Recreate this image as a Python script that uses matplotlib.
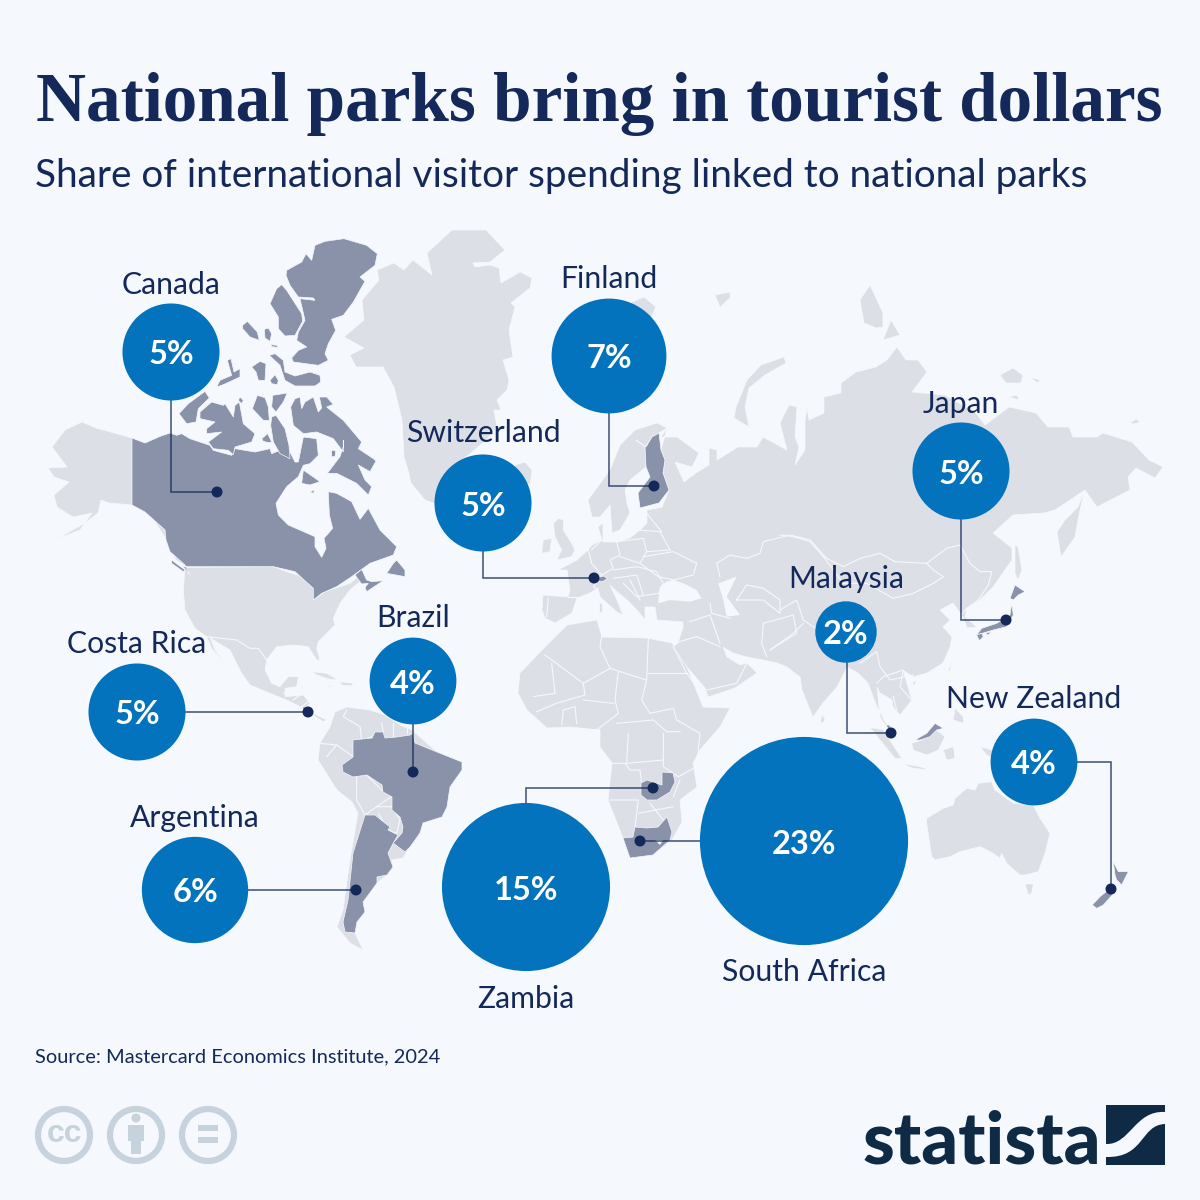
import numpy as np
import matplotlib
matplotlib.use('Agg')
import matplotlib.pyplot as plt
from matplotlib.patches import Circle, Rectangle, PathPatch
from matplotlib.path import Path

# values
countries = ['Canada', 'Finland', 'Switzerland', 'Japan', 'Malaysia', 'New Zealand',
             'Brazil', 'Costa Rica', 'Argentina', 'Zambia', 'South Africa']
shares = [5, 7, 5, 5, 2, 4, 4, 5, 6, 15, 23]

title = 'National parks bring in tourist dollars'
subtitle = 'Share of international visitor spending linked to national parks'
source = 'Source: Mastercard Economics Institute, 2024'

# layout, in pixels of the 1200x1200 picture
bubble_x = [171, 609, 483, 961, 846, 1034, 413, 137, 195, 526, 804]
bubble_y = [352, 356, 503, 471, 632, 762, 681, 712, 890, 887, 841]
label_y = [285, 279, 433, 404, 579, 699, 618, 644, 818, 999, 972]
bubble_scale = 21.7

# leader lines end at the dot
leaders = [
    [(171, 400), (171, 492), (217, 492)],
    [(609, 410), (609, 486), (654, 486)],
    [(483, 550), (483, 578), (594, 578)],
    [(961, 515), (961, 620), (1006, 620)],
    [(847, 660), (847, 733), (891, 733)],
    [(1075, 762), (1111, 762), (1111, 889)],
    [(413, 720), (413, 772)],
    [(185, 712), (308, 712)],
    [(245, 890), (356, 890)],
    [(526, 805), (526, 788), (653, 788)],
    [(702, 841), (640, 841)],
]

BG = '#f5f8fc'
LAND = '#dcdfe6'
HILITE = '#8992a9'
BLUE = '#0273bc'
NAVY = '#14295a'
LOGO = '#0f2a44'
ICON = '#c6d3dc'


def arc(pts):
    return [(170 + x / 3, 232 + y / 3) for x, y in pts]


def hud(pts):
    return [(170 + x / 3, 440 + y / 3) for x, y in pts]


def usa(pts):
    return [(170 + x / 3, 560 + y / 3) for x, y in pts]


def z3(pts):
    return [(250 + x / 3, 600 + y / 3) for x, y in pts]


def z5(pts):
    return [(530 + x / 3, 500 + y / 3) for x, y in pts]


def z6(pts):
    return [(780 + x / 3, 520 + y / 3) for x, y in pts]


def z7(pts):
    return [(900 + x / 3, 740 + y / 3) for x, y in pts]


# ---- base map outlines ----
greenland = [(452, 230), (486, 230), (505, 250), (490, 262), (473, 263), (475, 267), (490, 265), (499, 268),
             (501, 283), (520, 272), (532, 278), (530, 288), (511, 303), (515, 307), (509, 330), (513, 357),
             (503, 360), (509, 380), (507, 390), (497, 400), (501, 410), (494, 410), (497, 427), (486, 440),
             (471, 453), (452, 467), (444, 507), (425, 500), (411, 483), (408, 470), (404, 457), (402, 420),
             (394, 387), (383, 367), (356, 367), (350, 355), (364, 348), (344, 337), (364, 320), (362, 300),
             (379, 280), (377, 270), (394, 263), (404, 270), (413, 260), (432, 275), (427, 253)]
alaska = [(132, 438), (96, 428), (82, 422), (65, 430), (52, 447), (67, 467), (48, 468), (54, 477), (69, 482),
          (54, 495), (57, 507), (73, 517), (92, 513), (80, 530), (57, 539), (85, 523), (98, 513), (101, 500),
          (109, 503), (132, 505), (145, 512), (165, 530), (166, 540), (176, 560), (187, 567), (170, 545),
          (155, 522)]
north_am = usa([(45, 22), (310, 20), (350, 35), (400, 50), (435, 90), (430, 120), (465, 95), (540, 70), (575, 40),
                (575, 60), (540, 90), (510, 130), (490, 175), (495, 195), (445, 245), (440, 265), (450, 300),
                (440, 300), (415, 260), (370, 255), (320, 260), (290, 300), (285, 330), (305, 370), (330, 380),
                (355, 350), (385, 350), (380, 380), (345, 385), (345, 410), (400, 405), (420, 430), (400, 450),
                (440, 465), (470, 480), (460, 485), (420, 460), (390, 440), (350, 420), (300, 400), (240, 375),
                (215, 340), (180, 270), (130, 240), (120, 230), (135, 270), (175, 325), (125, 265), (110, 230),
                (75, 205), (45, 150), (40, 90)])
cuba = usa([(425, 335), (470, 340), (505, 360), (480, 358), (440, 345)])
hispaniola = usa([(510, 365), (550, 370), (545, 378), (515, 375)])
jamaica = usa([(468, 376), (485, 378), (480, 382)])
south_am = [(330, 727), (335, 712), (347, 707), (370, 710), (385, 715), (400, 725), (412, 730), (437, 752),
            (462, 762), (462, 770), (450, 787), (447, 807), (442, 817), (423, 823), (420, 833), (410, 847),
            (403, 858), (392, 860), (387, 875), (377, 883), (363, 902), (357, 922), (355, 933), (363, 950),
            (350, 943), (337, 927), (343, 910), (350, 860), (358, 813), (352, 802), (337, 790), (318, 760),
            (320, 743)]
africa = [(567, 625), (597, 620), (602, 637), (647, 638), (672, 643), (687, 667), (703, 707), (730, 708),
          (720, 727), (700, 750), (693, 763), (697, 787), (680, 800), (682, 822), (672, 840), (653, 855),
          (630, 858), (623, 838), (608, 800), (612, 763), (600, 747), (600, 730), (570, 727), (547, 728),
          (527, 710), (518, 693), (520, 673), (545, 647)]
eurasia = [(667, 428), (661, 437), (677, 437), (699, 453), (692, 467), (675, 462), (684, 482), (696, 473),
           (709, 465), (709, 448), (717, 450), (717, 460), (738, 447), (757, 447), (763, 437), (787, 450),
           (780, 423), (789, 405), (797, 407), (795, 437), (799, 447), (795, 465), (805, 450), (805, 420),
           (807, 408), (809, 420), (824, 413), (824, 397), (841, 393), (841, 383), (856, 372), (876, 367),
           (887, 360), (897, 347), (906, 360), (918, 360), (927, 372), (912, 392), (945, 395), (975, 412),
           (985, 425), (1009, 407), (1036, 413), (1048, 427), (1069, 427), (1073, 437), (1097, 437),
           (1103, 433), (1132, 442), (1149, 460), (1163, 467), (1155, 478), (1136, 468), (1128, 477),
           (1130, 490), (1097, 507), (1085, 490), (1055, 510), (1044, 513), (1013, 515), (993, 533),
           (1012, 548), (1012, 560), (993, 587), (980, 600), (967, 608), (965, 617), (977, 627), (967, 628),
           (963, 617), (953, 603), (940, 610), (950, 620), (943, 627), (952, 637), (950, 647), (943, 663),
           (927, 673), (913, 677), (903, 670), (912, 700), (900, 715), (893, 707), (892, 700), (880, 693),
           (877, 687), (880, 717), (893, 737), (888, 727), (877, 707), (868, 683), (858, 673), (847, 667),
           (837, 687), (823, 703), (813, 717), (802, 690), (800, 677), (787, 667), (777, 663), (763, 660),
           (747, 657), (733, 653), (723, 647), (727, 657), (740, 665), (747, 663), (757, 673), (735, 688),
           (708, 697), (705, 688), (687, 667), (673, 647), (678, 643), (683, 627), (683, 622), (657, 620),
           (655, 607), (645, 607), (645, 620), (637, 610), (627, 600), (615, 590), (610, 585), (617, 600),
           (623, 615), (617, 612), (600, 597), (598, 588), (590, 593), (577, 598), (572, 613), (555, 623),
           (545, 618), (542, 610), (543, 595), (568, 597), (570, 590), (567, 570), (558, 570), (577, 560),
           (588, 550), (592, 545), (602, 540), (598, 527), (603, 523), (603, 542), (617, 542), (630, 538),
           (640, 530), (647, 523), (647, 510), (658, 508), (662, 507), (669, 490), (663, 473), (665, 460),
           (661, 450)]
scandinavia = [(588, 500), (592, 517), (600, 517), (610, 505), (612, 533), (620, 530), (630, 513), (627, 503),
               (625, 490), (630, 480), (646, 467), (645, 447), (652, 437), (659, 433), (667, 428), (657, 423),
               (635, 430), (620, 445), (610, 470)]
australia = z7([(80, 235), (130, 205), (160, 195), (165, 175), (200, 145), (225, 150), (235, 130), (275, 125),
                (285, 150), (340, 190), (400, 195), (420, 235), (450, 280), (435, 340), (415, 395), (375, 405),
                (360, 405), (320, 370), (305, 340), (300, 355), (280, 340), (240, 320), (180, 335), (150, 350),
                (105, 360), (95, 350), (80, 250)])
islands = [
    z5([(85, 55), (100, 60), (100, 90), (125, 130), (135, 150), (125, 170), (80, 180), (95, 150), (75, 110), (70, 70)]),
    z5([(40, 120), (65, 115), (60, 155), (35, 160)]),
    z5([(207, 310), (216, 310), (216, 335), (207, 335)]),
    [(515, 465), (525, 462), (532, 470), (530, 485), (515, 480)],
    [(625, 305), (644, 297), (656, 307), (650, 320), (630, 320)],
    [(715, 295), (730, 292), (730, 298), (720, 307)],
    [(784, 357), (786, 363), (765, 375), (749, 388), (745, 407), (749, 427), (734, 418), (736, 407), (747, 380), (761, 365)],
    [(860, 300), (870, 285), (883, 313), (883, 327), (876, 328), (864, 323)],
    [(883, 340), (891, 320), (900, 335)],
    [(1000, 375), (1013, 368), (1023, 375), (1021, 383), (1006, 383)],
    [(1029, 377), (1040, 380), (1038, 383)],
    [(1009, 397), (1017, 395), (1019, 400)],
    [(1130, 423), (1136, 419), (1140, 422), (1134, 424)],
    [(1084, 492), (1078, 507), (1065, 520), (1057, 532), (1061, 557), (1075, 537), (1078, 520)],
    [(1015, 545), (1018, 547), (1022, 570), (1018, 580), (1015, 573)],
    z6([(395, 670), (425, 660), (470, 630), (495, 650), (475, 690), (440, 705), (400, 690)]),
    z6([(270, 622), (310, 630), (365, 715), (345, 715), (300, 660)]),
    z6([(365, 730), (420, 740), (450, 750), (400, 745)]),
    z6([(490, 690), (520, 680), (525, 715), (500, 720)]),
    z6([(525, 565), (550, 590), (550, 610), (520, 600)]),
    z6([(395, 490), (410, 480), (405, 495)]),
    z6([(505, 450), (515, 430), (510, 455)]),
    z6([(125, 585), (135, 595), (130, 610), (122, 605)]),
    z6([(600, 680), (635, 690), (650, 720), (620, 705)]),
    z7([(375, 432), (400, 432), (395, 460), (385, 465)]),
    cuba, hispaniola, jamaica,
]
# inland seas are cut out with the background colour
seas = [
    z5([(385, 300), (390, 260), (410, 245), (430, 240), (460, 250), (500, 270), (515, 295), (480, 305), (420, 300), (385, 310)]),
    z5([(565, 250), (620, 230), (590, 290), (630, 345), (590, 350), (580, 300)]),
]

# ---- highlighted countries ----
canada = [
    [(132, 438), (145, 443), (161, 436), (170, 433)]
    + arc([(20, 610), (35, 605), (60, 620), (120, 640), (130, 655), (185, 670), (195, 650), (255, 660), (300, 650),
           (305, 665), (330, 655), (350, 640), (375, 690), (385, 690), (400, 615), (440, 620), (445, 670), (420, 695),
           (400, 700)])
    + hud([(385, 110), (350, 140), (318, 190), (325, 225), (355, 255), (435, 290), (435, 320), (455, 352), (468, 325),
           (462, 295), (488, 265), (478, 225), (475, 155), (500, 160), (545, 185), (570, 238), (595, 205), (630, 270),
           (680, 320), (670, 345), (600, 370), (545, 410), (500, 440), (455, 460), (430, 480), (430, 445), (375, 395),
           (310, 380), (40, 380), (60, 405), (45, 375), (0, 335)])
    + [(166, 540), (165, 530), (145, 512), (132, 505)],
    hud([(400, 90), (450, 125), (420, 135), (395, 130)]),
    hud([(420, 155), (435, 150), (430, 160)]),
    hud([(485, 30), (497, 33), (495, 50), (485, 50)]),
    hud([(680, 360), (705, 390), (705, 410), (650, 400), (670, 370)]),
    hud([(555, 405), (575, 388), (590, 420), (605, 425), (640, 422), (590, 455), (585, 442), (595, 430), (575, 432)]),
    hud([(5, 360), (45, 390), (40, 395), (5, 370)]),
    # arctic islands
    arc([(350, 115), (395, 90), (408, 65), (425, 85), (435, 40), (465, 28), (522, 20), (590, 40), (622, 65), (615, 100),
         (570, 135), (585, 148), (550, 210), (520, 250), (485, 262), (497, 295), (475, 335), (465, 365), (475, 385),
         (445, 400), (370, 390), (365, 378), (385, 355), (410, 345), (380, 325), (385, 300), (405, 265), (390, 200),
         (435, 205), (430, 198), (385, 195), (360, 160), (348, 130)]),
    arc([(320, 170), (335, 158), (350, 175), (395, 245), (398, 268), (375, 310), (345, 312), (325, 290), (325, 255), (300, 215)]),
    arc([(218, 280), (232, 268), (262, 300), (268, 325), (240, 315), (218, 290)]),
    arc([(283, 292), (295, 288), (305, 305), (300, 328), (285, 318)]),
    arc([(303, 338), (322, 340), (322, 346), (305, 344)]),
    arc([(298, 370), (315, 365), (340, 385), (345, 420), (375, 432), (420, 420), (450, 430), (452, 450), (435, 462),
         (375, 462), (345, 445), (330, 400)]),
    arc([(245, 405), (270, 388), (288, 395), (285, 445), (265, 445), (258, 420)]),
    arc([(300, 445), (315, 428), (325, 445), (322, 458), (305, 455)]),
    arc([(172, 385), (183, 380), (192, 420), (210, 410), (210, 435), (160, 458), (140, 465), (150, 445), (185, 430)]),
    arc([(27, 545), (55, 515), (105, 478), (118, 498), (85, 530), (78, 570), (50, 575)]),
    arc([(90, 540), (125, 510), (160, 520), (165, 515), (190, 555), (195, 520), (208, 510), (220, 575), (255, 605),
         (245, 630), (195, 645), (190, 668), (175, 655), (130, 650), (115, 630), (155, 600), (110, 605), (110, 590),
         (135, 570), (90, 560)]),
    arc([(210, 495), (220, 505), (215, 515), (205, 505)]),
    arc([(247, 530), (262, 490), (285, 497), (295, 525), (298, 565), (280, 565)]),
    arc([(308, 490), (352, 483), (340, 510), (318, 540), (305, 525)]),
    arc([(305, 555), (318, 550), (345, 590), (357, 640), (360, 680), (330, 665), (310, 630), (302, 580)]),
    arc([(275, 620), (293, 605), (305, 630), (295, 632), (280, 628)]),
    # Baffin
    arc([(362, 525), (375, 500), (390, 495), (395, 530), (405, 510), (430, 495), (445, 540), (455, 528), (448, 495),
         (470, 495), (490, 517), (470, 525), (520, 565), (575, 630), (565, 650), (610, 680), (622, 690)])
    + hud([(620, 60), (600, 95), (565, 75), (585, 120), (605, 140), (595, 165), (560, 130), (500, 100), (472, 100),
           (510, 50), (520, 20), (520, 0)])
    + arc([(520, 660), (490, 620), (440, 600), (400, 605), (370, 580)]),
]
finland = [[(636, 440), (646, 447), (652, 437), (659, 433), (661, 450), (665, 460), (663, 473), (669, 490),
            (659, 503), (640, 508), (638, 493), (650, 477), (646, 467), (645, 447)]]
brazil = [[(353, 740), (372, 738), (375, 732), (383, 732), (385, 738), (397, 737), (410, 735), (413, 733), (415, 743),
           (437, 752), (462, 762), (462, 770), (450, 787), (447, 807), (442, 817), (423, 823), (420, 833), (410, 847),
           (405, 852), (393, 843), (402, 833), (403, 827), (400, 817), (392, 810), (392, 797), (383, 792), (382, 785),
           (367, 775), (353, 777), (343, 772), (342, 765), (353, 757)]]
argentina = [[(365, 815), (375, 815), (390, 827), (388, 830), (398, 835), (395, 840), (388, 853), (393, 867),
              (387, 875), (377, 877), (377, 883), (372, 890), (363, 902), (365, 912), (357, 922), (355, 933),
              (345, 932), (343, 922), (348, 900), (353, 853)]]
south_africa = [[(623, 838), (633, 837), (635, 827), (647, 828), (658, 827), (667, 817), (672, 832), (670, 840),
                 (653, 855), (630, 858)]]
zambia = [[(647, 780), (662, 785), (662, 772), (673, 773), (675, 782), (670, 792), (657, 800), (647, 800),
           (641, 795), (641, 783)]]
japan = [z6([(690, 235), (705, 195), (735, 215), (715, 225), (700, 240)]),
         z6([(695, 250), (700, 285), (680, 320), (640, 330), (590, 345), (605, 325), (650, 310), (690, 285)]),
         z6([(590, 345), (605, 340), (610, 350), (598, 362)]),
         z6([(615, 340), (635, 335), (625, 345)])]
malaysia = [z6([(405, 660), (440, 640), (465, 610), (490, 625), (470, 630), (450, 650), (420, 660)]),
            z6([(318, 615), (328, 615), (350, 652), (335, 645)])]
new_zealand = [z7([(640, 365), (655, 395), (685, 395), (665, 435), (650, 420), (645, 405)]),
               z7([(650, 450), (610, 495), (590, 505), (577, 495), (600, 470), (625, 450)])]
switzerland = [z5([(205, 232), (222, 228), (232, 236), (218, 245), (205, 243)])]
costa_rica = [[(303, 706), (313, 712), (312, 717), (303, 712)]]
highlighted = canada + finland + brazil + argentina + south_africa + zambia + japan + malaysia + new_zealand \
    + switzerland + costa_rica

# ---- white country borders ----
borders = [
    z3([(885, 165), (1000, 250), (1080, 205)]), z3([(905, 190), (915, 280), (850, 290)]),
    z3([(1000, 250), (1005, 285), (970, 295), (920, 310), (860, 335)]),
    z3([(1055, 110), (1050, 140), (1080, 205), (1110, 215), (1190, 240), (1195, 115)]),
    z3([(1195, 220), (1310, 220)]),
    z3([(1190, 240), (1175, 300), (1200, 340), (1270, 325), (1280, 360), (1350, 400), (1340, 500)]),
    z3([(1105, 215), (1095, 300), (1105, 340), (1040, 390)]),
    z3([(1100, 370), (1210, 360), (1250, 395), (1290, 395)]),
    z3([(1135, 400), (1130, 490), (1240, 480)]), z3([(1240, 400), (1240, 500), (1285, 530), (1340, 500)]),
    z3([(1085, 490), (1125, 490), (1140, 510), (1170, 510), (1175, 550)]),
    z3([(1080, 600), (1165, 600), (1155, 680)]), z3([(1200, 610), (1240, 660)]), z3([(1270, 590), (1290, 540)]),
    z3([(935, 375), (940, 330), (975, 320), (980, 370)]), z3([(1000, 300), (1090, 310)]),
    z3([(1165, 640), (1270, 620)]),
    z3([(290, 330), (280, 350), (330, 380), (335, 420), (370, 410)]), z3([(395, 370), (400, 395)]),
    z3([(430, 370), (430, 410)]), z3([(470, 380), (470, 400)]), z3([(210, 430), (260, 435), (230, 470)]),
    z3([(260, 435), (310, 470)]),
    z3([(320, 530), (320, 600), (345, 645), (380, 620), (425, 590), (400, 575), (350, 525)]),
    z3([(380, 620), (425, 620), (450, 660), (440, 700), (415, 690), (385, 640)]),
    usa([(110, 230), (200, 240), (240, 265), (265, 265), (290, 300)]),
    usa([(340, 400), (360, 385)]), usa([(370, 420), (390, 405)]), usa([(395, 440), (415, 425)]),
    z5([(55, 295), (50, 350)]), z5([(115, 290), (140, 290)]),
    z5([(175, 150), (185, 190), (215, 225), (190, 260), (205, 270)]),
    z5([(185, 150), (215, 120), (260, 125), (270, 165), (240, 180), (250, 205), (215, 225)]),
    z5([(260, 125), (340, 115), (350, 155), (330, 190), (270, 170)]),
    z5([(325, 90), (390, 95), (420, 150), (350, 155)]), z5([(350, 40), (395, 95)]),
    z5([(340, 170), (430, 155), (500, 190), (490, 225), (430, 240), (385, 230), (330, 190)]),
    z5([(250, 210), (320, 200), (380, 215), (400, 250), (385, 280), (320, 290), (280, 250)]),
    z5([(250, 235), (320, 225), (340, 285)]), z5([(300, 240), (330, 300)]),
    z5([(560, 190), (600, 165), (650, 175), (690, 160), (700, 125), (780, 105), (840, 120), (890, 175)]),
    z5([(560, 190), (570, 230)]), z5([(540, 310), (545, 340), (600, 355)]),
    z5([(620, 300), (650, 255), (700, 265), (750, 300), (750, 340), (700, 300), (650, 300), (620, 300)]),
    z5([(700, 370), (695, 430), (710, 470)]), z5([(480, 365), (540, 345), (570, 430)]),
    z5([(430, 430), (500, 410), (570, 440)]), z5([(700, 370), (790, 345), (800, 400), (720, 450)]),
    z5([(720, 450), (790, 400), (820, 370)]), z5([(530, 570), (620, 550), (650, 490)]),
    z5([(430, 440), (470, 520), (530, 600)]),
    z6([(0, 45), (40, 50), (90, 65), (130, 110), (190, 140), (240, 115), (300, 100), (345, 125), (440, 130), (500, 85),
        (540, 75), (570, 130), (600, 155), (635, 155), (625, 195), (595, 240), (560, 265)]),
    z6([(130, 110), (190, 190), (260, 190), (340, 235), (400, 220), (460, 190), (490, 170), (460, 150), (440, 130)]),
    z6([(540, 290), (555, 270), (580, 260)]), z6([(0, 270), (50, 240), (70, 300), (100, 320), (130, 340)]),
    z6([(240, 430), (290, 395), (300, 440), (330, 480), (400, 465)]),
    z6([(290, 490), (310, 470), (370, 450), (360, 500), (395, 540)]), z6([(340, 530), (350, 570)]),
]

fig = plt.figure(figsize=(12, 12), dpi=100, facecolor=BG)
ax = fig.add_axes([0, 0, 1, 1])
ax.set_xlim(0, 1200)
ax.set_ylim(1200, 0)
ax.axis('off')

# map
base = [greenland, alaska, north_am, south_am, africa, eurasia, scandinavia, australia] + islands
for poly in base:
    xs, ys = zip(*poly)
    ax.fill(xs, ys, facecolor=LAND, edgecolor=BG, lw=0.5, zorder=1)
for poly in seas:
    xs, ys = zip(*poly)
    ax.fill(xs, ys, facecolor=BG, edgecolor='none', zorder=2)
for line in borders:
    xs, ys = zip(*line)
    ax.plot(xs, ys, color=BG, lw=0.8, zorder=2, solid_joinstyle='round')
for poly in highlighted:
    xs, ys = zip(*poly)
    ax.fill(xs, ys, facecolor=HILITE, edgecolor=BG, lw=0.5, zorder=3)
lesotho = [(655, 840), (663, 840), (660, 845)]
ax.fill(*zip(*lesotho), facecolor=BG, edgecolor='none', zorder=3)

# leader lines and dots
for line in leaders:
    xs, ys = zip(*line)
    ax.plot(xs, ys, color=NAVY, lw=1.2, alpha=0.75, zorder=4, solid_joinstyle='miter')
    ax.add_patch(Circle(line[-1], 5.5, facecolor=NAVY, edgecolor='none', zorder=5))

# bubbles, area goes with the share
for name, val, x, y, ly in zip(countries, shares, bubble_x, bubble_y, label_y):
    ax.add_patch(Circle((x, y), bubble_scale * np.sqrt(val), facecolor=BLUE, edgecolor='none', zorder=6))
    ax.text(x, y + 3, f'{val}%', color='white', fontsize=23.5, fontweight='bold', family='Lato',
            ha='center', va='center', zorder=7)
    ax.text(x, ly, name, color=NAVY, fontsize=21.7, family='Lato', ha='center', va='center', zorder=7)

# header and source
ax.text(36, 121, title, color=NAVY, fontsize=49.8, family='Liberation Serif', fontweight='bold',
        ha='left', va='baseline')
ax.text(35, 187, subtitle, color=NAVY, fontsize=27.95, family='Lato', ha='left', va='baseline')
ax.text(35, 1062, source, color=NAVY, fontsize=14.4, family='Lato', ha='left', va='baseline')

# licence icons
for cx in [64, 136, 208]:
    ax.add_patch(Circle((cx, 1135), 26, facecolor='none', edgecolor=ICON, lw=4.5))
ax.text(64, 1134, 'cc', color=ICON, fontsize=23, family='Liberation Sans', fontweight='bold',
        ha='center', va='center')
ax.add_patch(Circle((136, 1118), 4.5, facecolor=ICON, edgecolor='none'))
ax.add_patch(Rectangle((128, 1125), 16, 16, facecolor=ICON, edgecolor='none'))
ax.add_patch(Rectangle((131, 1140), 10, 14, facecolor=ICON, edgecolor='none'))
ax.add_patch(Rectangle((198, 1125), 20, 6, facecolor=ICON, edgecolor='none'))
ax.add_patch(Rectangle((198, 1137), 20, 6, facecolor=ICON, edgecolor='none'))

# statista logo
ax.text(863, 1163, 'statista', color=LOGO, fontsize=52, fontweight=900, family='Lato',
        ha='left', va='baseline')
ax.add_patch(Rectangle((1106, 1105), 59, 60, facecolor=LOGO, edgecolor='none'))
verts = [(1165, 1112), (1135, 1110), (1130, 1145), (1106, 1144), (1106, 1157), (1145, 1158), (1140, 1125),
         (1165, 1124), (1165, 1112)]
codes = [Path.MOVETO, Path.CURVE4, Path.CURVE4, Path.CURVE4, Path.LINETO, Path.CURVE4, Path.CURVE4, Path.CURVE4,
         Path.CLOSEPOLY]
ax.add_patch(PathPatch(Path(verts, codes), facecolor=BG, edgecolor='none'))

fig.savefig('out.png', dpi=100, facecolor=BG)
